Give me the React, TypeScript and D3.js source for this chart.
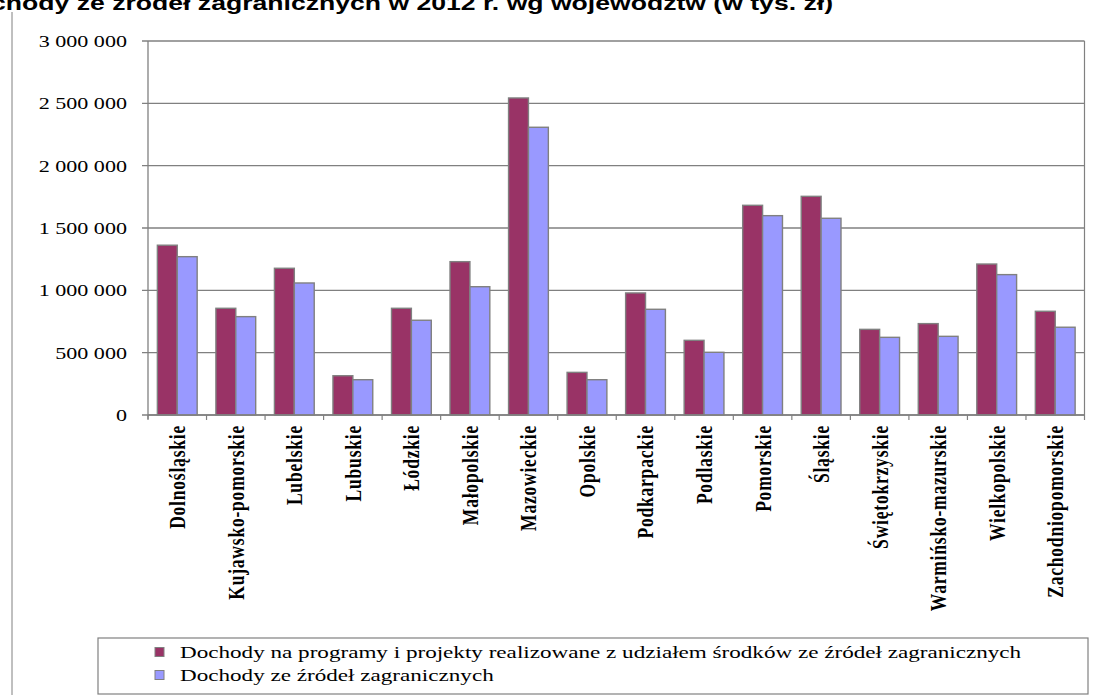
import React from "react";
import * as d3 from "d3";

const title = "Dochody ze źródeł zagranicznych w 2012 r. wg województw (w tys. zł)";
const categories = [
  "Dolnośląskie", "Kujawsko-pomorskie", "Lubelskie", "Lubuskie", "Łódzkie", "Małopolskie",
  "Mazowieckie", "Opolskie", "Podkarpackie", "Podlaskie", "Pomorskie", "Śląskie",
  "Świętokrzyskie", "Warmińsko-mazurskie", "Wielkopolskie", "Zachodniopomorskie",
];
const seriesNames = [
  "Dochody na programy i projekty realizowane z udziałem środków ze źródeł zagranicznych",
  "Dochody ze źródeł zagranicznych",
];
const programValues = [1362000, 856000, 1177000, 315000, 856000, 1230000, 2543000, 342000, 979000, 599000, 1682000, 1754000, 687000, 733000, 1211000, 832000];
const foreignValues = [1270000, 789000, 1059000, 283000, 760000, 1029000, 2308000, 283000, 848000, 503000, 1599000, 1578000, 623000, 631000, 1126000, 704000];
const yTicks = [0, 500000, 1000000, 1500000, 2000000, 2500000, 3000000];
const colors = ["#993366", "#9999FF"];

const W = 1109, H = 695;
const plot = { left: 148, right: 1084.5, top: 41, bottom: 415 };
const SX = 1.3;

const fmt = (v: number) => d3.format(",")(v).replace(/,/g, " ");

export default function App() {
  const x = d3.scaleBand<string>().domain(categories).range([plot.left, plot.right]).paddingInner(0.32).paddingOuter(0.16);
  const x1 = d3.scaleBand<number>().domain([0, 1]).range([0, x.bandwidth()]);
  const y = d3.scaleLinear().domain([0, 3000000]).range([plot.bottom, plot.top]);
  const step = x.step();
  const series = [programValues, foreignValues];
  const serif = "Liberation Serif";
  const sans = "Liberation Sans";

  return (
    <svg width={W} height={H} style={{ position: "absolute", left: 0, top: 0, background: "#fff" }}>
      <line x1={12} x2={12} y1={12} y2={H} stroke="#808080" strokeWidth={1} />
      <text transform={`translate(833,10) scale(1.33,1)`} textAnchor="end"
        fontFamily={sans} fontWeight="bold" fontSize={20} fill="#000">{title}</text>

      <line x1={plot.right} x2={plot.right} y1={plot.top} y2={plot.bottom} stroke="#808080" strokeWidth={1.2} />
      {yTicks.map((t) => (
        <g key={t}>
          <line x1={plot.left - 6} x2={plot.right} y1={y(t)} y2={y(t)} stroke="#808080" strokeWidth={1.3} />
          <text transform={`translate(127,${y(t)}) scale(${SX},1)`} dy="0.35em" textAnchor="end"
            fontFamily={serif} fontSize={17} fill="#000">{fmt(t)}</text>
        </g>
      ))}
      {categories.map((c, i) => (
        <g key={c} transform={`translate(${x(c)},0)`}>
          {series.map((s, k) => (
            <rect key={k} x={x1(k)} y={y(s[i])} width={x1.bandwidth()} height={plot.bottom - y(s[i])}
              fill={colors[k]} stroke="#808080" strokeWidth={1.4} />
          ))}
        </g>
      ))}
      <line x1={plot.left} x2={plot.left} y1={plot.top} y2={plot.bottom + 4} stroke="#808080" strokeWidth={1.3} />
      <line x1={plot.left} x2={plot.right} y1={plot.bottom} y2={plot.bottom} stroke="#808080" strokeWidth={1.3} />
      {d3.range(categories.length + 1).map((j) => (
        <line key={j} x1={plot.left + j * step} x2={plot.left + j * step} y1={plot.bottom} y2={plot.bottom + 5} stroke="#808080" strokeWidth={1.2} />
      ))}
      {categories.map((c) => (
        <text key={c} transform={`translate(${(x(c) as number) + x.bandwidth() / 2},${plot.bottom + 10}) scale(${SX},1) rotate(-90)`}
          dy="0.35em" textAnchor="end" fontFamily={serif} fontWeight="bold" fontSize={17.5} letterSpacing={0.8} fill="#000">{c}</text>
      ))}

      <rect x={98} y={638} width={990} height={56} fill="#fff" stroke="#808080" strokeWidth={1.2} />
      {seriesNames.map((n, k) => (
        <g key={n} transform={`translate(155,${652 + k * 23})`}>
          <rect x={0} y={-4.5} width={9} height={9} fill={colors[k]} stroke="#808080" strokeWidth={1} />
          <text transform={`translate(25,0) scale(1.36,1)`} dy="0.35em"
            fontFamily={serif} fontSize={17} fill="#000">{n}</text>
        </g>
      ))}
    </svg>
  );
}
